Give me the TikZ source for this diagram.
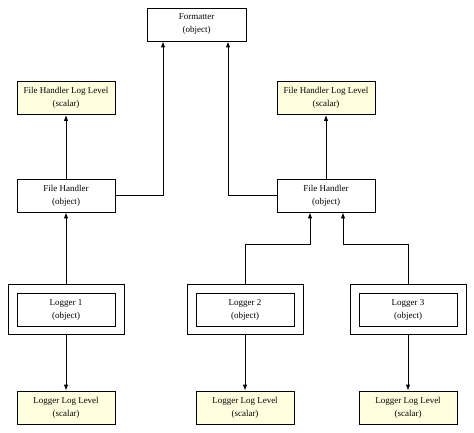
\documentclass[tikz,border=0pt]{standalone}
\usepackage{fontspec}
\setmainfont{Liberation Serif}
\usetikzlibrary{arrows.meta,fit}
\definecolor{scalarfill}{HTML}{FFFFE0}
\begin{document}
\begin{tikzpicture}[x=1pt,y=-1pt,
  box/.style={draw, line width=0.9pt, minimum width=98pt, minimum height=33pt, inner sep=0pt, align=center,
    font=\fontsize{9}{13}\selectfont},
  obj/.style={box, fill=white},
  scal/.style={box, fill=scalarfill},
  outer/.style={draw, line width=0.9pt, inner xsep=8.5pt, inner ysep=8pt},
  arr/.style={line width=0.9pt, -{Latex[length=6pt,width=4.5pt]}}]
\useasboundingbox (0,0) rectangle (474,433);
\node[obj, minimum width=99pt] (fmt) at (196.5,24.5) {Formatter\\(object)};
\node[scal] (fhll1) at (66,98) {File Handler Log Level\\(scalar)};
\node[scal] (fhll2) at (326,98) {File Handler Log Level\\(scalar)};
\node[obj] (fh1) at (66,195.5) {File Handler\\(object)};
\node[obj] (fh2) at (326,195.5) {File Handler\\(object)};
\node[obj] (lg1) at (66,309.5) {Logger 1\\(object)};
\node[obj] (lg2) at (245,309.5) {Logger 2\\(object)};
\node[obj] (lg3) at (408,309.5) {Logger 3\\(object)};
\node[outer, fit=(lg1)] (lg1o) {};
\node[outer, fit=(lg2)] (lg2o) {};
\node[outer, fit=(lg3)] (lg3o) {};
\node[scal] (lll1) at (66,407.5) {Logger Log Level\\(scalar)};
\node[scal] (lll2) at (245,407.5) {Logger Log Level\\(scalar)};
\node[scal] (lll3) at (408,407.5) {Logger Log Level\\(scalar)};
\draw[arr] (fh1.north) -- (fhll1.south);
\draw[arr] (fh2.north) -- (fhll2.south);
\draw[arr] (fh1.east) -| ([xshift=-33.5pt]fmt.south);
\draw[arr] (fh2.west) -| ([xshift=31.5pt]fmt.south);
\draw[arr] (lg1o.north) -- (fh1.south);
\draw[arr] (lg2o.north) -- ++(0,-40) -| ([xshift=-16pt]fh2.south);
\draw[arr] (lg3o.north) -- ++(0,-40) -| ([xshift=17pt]fh2.south);
\draw[arr] (lg1o.south) -- (lll1.north);
\draw[arr] (lg2o.south) -- (lll2.north);
\draw[arr] (lg3o.south) -- (lll3.north);
\end{tikzpicture}
\end{document}
